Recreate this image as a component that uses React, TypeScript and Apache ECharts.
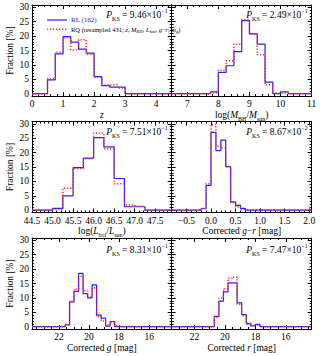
import React, { useEffect, useRef } from 'react';
import * as echarts from 'echarts';

const FONT = '"Liberation Serif", "DejaVu Serif", serif';
const BLUE = '#2222ff';
const RED = '#ff2222';

// ---- data (histogram fractions, %) ----
// Panel 1: redshift z, bins of 0.25 starting at 0.5
const zStart = 0.5;
const zWidth = 0.25;
const zRL = [4.8, 13.8, 19.8, 17.9, 15.5, 14.1, 5.9, 2.8, 2.3, 2.3];
const zRQ = [5.3, 14.4, 19.3, 15.2, 18.7, 13.7, 5.7, 3.0, 3.2, 2.0];

// Panel 2: log(M_BH), bins of 0.25 starting at 7.75
const mStart = 7.75;
const mWidth = 0.25;
const mRL = [0.6, 7.4, 9.7, 14.6, 25.4, 20.8, 17.2, 4.0, 0, 0.6];
const mRQ = [0.3, 8.1, 11.4, 17.2, 25.8, 20.6, 13.5, 3.1, 0.2, 0.3];

// Panel 3: log(L_bol), bins of 0.25 starting at 45.0
const lStart = 45.0;
const lWidth = 0.25;
const lRL = [0.6, 5.0, 14.8, 18.1, 25.2, 22.0, 11.0, 1.2, 1.2];
const lRQ = [0.3, 7.6, 14.5, 17.9, 26.8, 21.3, 9.2, 1.8, 1.4];

// Panel 4: corrected g-r, bins of 0.1 starting at -0.2
const grStart = -0.2;
const grWidth = 0.1;
const grRL = [0.5, 8.6, 27.0, 20.7, 24.3, 15.1, 2.9, 1.7, 0.6];
const grRQ = [0.7, 9.2, 29.8, 22.3, 21.7, 15.1, 2.6, 1.2, 0.2];

// Panel 5: corrected g, bins of 0.3 from 21.6 toward brighter mags
const gStart = 21.6;
const gWidth = -0.3;
const gRL = [0.6, 8.6, 12.3, 18.5, 11.5, 10.0, 14.5, 4.0, 3.0, 0.2, 1.8, 0];
const gRQ = [0.8, 8.8, 13.0, 17.5, 12.5, 10.5, 13.5, 3.5, 2.0, 0.5, 1.5, 0.3];

// Panel 6: corrected r, bins of 0.3 from 20.7 toward brighter mags
const rStart = 20.7;
const rWidth = -0.3;
const rRL = [3.6, 8.9, 12.1, 15.2, 15.2, 8.3, 4.2, 1.0, 0.3, 0.8];
const rRQ = [3.2, 10.0, 13.2, 16.8, 17.2, 7.8, 3.8, 1.2, 0.5, 0.5];

const pKS = ['9.46', '2.49', '7.51', '8.67', '8.31', '7.47'];
const pKSExp = ['−1', '−1', '−1', '−2', '−1', '−1'];

const yTicks = [0, 5, 10, 15, 20, 25, 30];

function range(a: number, b: number, s: number): number[] {
  const out: number[] = [];
  const n = Math.round((b - a) / s);
  for (let i = 0; i <= n; i++) out.push(Math.round((a + i * s) * 1e6) / 1e6);
  return out;
}

const rich = {
  n: { fontFamily: FONT, fontSize: 9.5, color: '#000', lineHeight: 14, verticalAlign: 'middle' },
  i: { fontFamily: FONT, fontSize: 9.5, color: '#000', fontStyle: 'italic', lineHeight: 14, verticalAlign: 'middle' },
  sub: { fontFamily: FONT, fontSize: 6, color: '#000', lineHeight: 9, verticalAlign: 'bottom' },
  sup: { fontFamily: FONT, fontSize: 6, color: '#000', lineHeight: 9, verticalAlign: 'top' },
};

type Panel = {
  min: number; max: number; inverse: boolean;
  major: number[]; minor: number[];
  fmt: (v: number) => string;
  title: string;
  start: number; width: number; rl: number[]; rq: number[];
};

const panels: Panel[] = [
  { min: 0, max: 4.5, inverse: false, major: range(0, 4, 1), minor: range(0, 4.4, 0.2), fmt: (v) => String(v),
    title: '{i|z}', start: zStart, width: zWidth, rl: zRL, rq: zRQ },
  { min: 6.5, max: 11, inverse: false, major: range(7, 11, 1), minor: range(6.6, 11, 0.2), fmt: (v) => String(v),
    title: '{n|log(}{i|M}{sub|BH}{n|/}{i|M}{sub|sun}{n|)}', start: mStart, width: mWidth, rl: mRL, rq: mRQ },
  { min: 44.5, max: 47.9, inverse: false, major: range(44.5, 47.5, 0.5), minor: range(44.5, 47.9, 0.1), fmt: (v) => v.toFixed(1),
    title: '{n|log(}{i|L}{sub|bol}{n|/}{i|L}{sub|sun}{n|)}', start: lStart, width: lWidth, rl: lRL, rq: lRQ },
  { min: -0.8, max: 2.05, inverse: false, major: range(-0.5, 2, 0.5), minor: range(-0.8, 2.0, 0.1), fmt: (v) => v.toFixed(1).replace('-', '−'),
    title: '{n|Corrected }{i|g}{n|−}{i|r}{n| [mag]}', start: grStart, width: grWidth, rl: grRL, rq: grRQ },
  { min: 14.5, max: 23.8, inverse: true, major: range(16, 22, 2), minor: range(14.5, 23.5, 0.5), fmt: (v) => String(v),
    title: '{n|Corrected }{i|g}{n| [mag]}', start: gStart, width: gWidth, rl: gRL, rq: gRQ },
  { min: 14.3, max: 23.5, inverse: true, major: range(16, 22, 2), minor: range(14.5, 23.5, 0.5), fmt: (v) => String(v),
    title: '{n|Corrected }{i|r}{n| [mag]}', start: rStart, width: rWidth, rl: rRL, rq: rRQ },
];

const LEFTS = [32, 171.7];
const WIDTHS = [139.7, 140];
const TOPS = [5, 121.5, 238];
const HEIGHT = 91;
const YMIN = -0.8;
const YMAX = 30.8;

function stepData(p: Panel, vals: number[]): number[][] {
  const leftV = p.inverse ? p.max : p.min;
  const rightV = p.inverse ? p.min : p.max;
  const pts: number[][] = [[leftV, 0]];
  vals.forEach((v, k) => pts.push([p.start + k * p.width, v]));
  pts.push([p.start + vals.length * p.width, 0]);
  pts.push([rightV, 0]);
  return pts;
}

function buildOption() {
  const grid: any[] = [];
  const xAxis: any[] = [];
  const yAxis: any[] = [];
  const series: any[] = [];
  const graphic: any[] = [];
  const black = { color: '#000', width: 1 };

  panels.forEach((p, i) => {
    const col = i % 2;
    const row = Math.floor(i / 2);
    const left = LEFTS[col];
    const top = TOPS[row];
    grid.push({ left, top, width: WIDTHS[col], height: HEIGHT, containLabel: false });
    const baseX = { gridIndex: i, type: 'value', min: p.min, max: p.max, inverse: p.inverse, splitLine: { show: false } };
    xAxis.push({ ...baseX, position: 'bottom',
      axisLine: { show: true, onZero: false, lineStyle: black },
      axisTick: { show: true, inside: true, length: 4, lineStyle: black, customValues: p.major },
      axisLabel: { show: true, customValues: p.major, formatter: p.fmt, fontFamily: FONT, fontSize: 9.5, color: '#000', margin: 3 },
      name: p.title, nameLocation: 'middle', nameGap: 11,
      nameTextStyle: { rich, verticalAlign: 'top' } });
    xAxis.push({ ...baseX, position: 'bottom', axisLine: { show: false, onZero: false },
      axisTick: { show: true, inside: true, length: 2, lineStyle: black, customValues: p.minor }, axisLabel: { show: false } });
    xAxis.push({ ...baseX, position: 'top', axisLine: { show: true, onZero: false, lineStyle: black },
      axisTick: { show: true, inside: true, length: 4, lineStyle: black, customValues: p.major }, axisLabel: { show: false } });
    xAxis.push({ ...baseX, position: 'top', axisLine: { show: false, onZero: false },
      axisTick: { show: true, inside: true, length: 2, lineStyle: black, customValues: p.minor }, axisLabel: { show: false } });

    const baseY = { gridIndex: i, type: 'value', min: YMIN, max: YMAX, splitLine: { show: false } };
    yAxis.push({ ...baseY, position: 'left',
      axisLine: { show: true, onZero: false, lineStyle: black },
      axisTick: { show: true, inside: true, length: 4, lineStyle: black, customValues: yTicks },
      axisLabel: { show: col === 0, customValues: yTicks, fontFamily: FONT, fontSize: 9.5, color: '#000', margin: 3 },
      name: col === 0 ? 'Fraction [%]' : '', nameLocation: 'middle', nameGap: 17, nameRotate: 90,
      nameTextStyle: { fontFamily: FONT, fontSize: 9.5, color: '#000' } });
    yAxis.push({ ...baseY, position: 'left', axisLine: { show: false, onZero: false },
      axisTick: { show: true, inside: true, length: 2, lineStyle: black, customValues: range(0, 30, 1) }, axisLabel: { show: false } });
    yAxis.push({ ...baseY, position: 'right', axisLine: { show: true, onZero: false, lineStyle: black },
      axisTick: { show: true, inside: true, length: 4, lineStyle: black, customValues: yTicks }, axisLabel: { show: false } });
    yAxis.push({ ...baseY, position: 'right', axisLine: { show: false, onZero: false },
      axisTick: { show: true, inside: true, length: 2, lineStyle: black, customValues: range(0, 30, 1) }, axisLabel: { show: false } });

    series.push({ type: 'line', xAxisIndex: i * 4, yAxisIndex: i * 4, data: stepData(p, p.rl), step: 'end',
      showSymbol: false, symbol: 'none', lineStyle: { color: BLUE, width: 1.2 }, z: 3 });
    series.push({ type: 'line', xAxisIndex: i * 4, yAxisIndex: i * 4, data: stepData(p, p.rq), step: 'end',
      showSymbol: false, symbol: 'none', lineStyle: { color: RED, width: 1.5, type: [1.2, 1.8] }, z: 4 });

    graphic.push({ type: 'text', x: left + WIDTHS[col] - 4, y: top + (row === 2 ? 12 : 10),
      style: { text: `{i|P}{sub|KS}{n| = ${pKS[i]}×10}{sup|${pKSExp[i]}}`, rich, align: 'right', verticalAlign: 'middle' } });
  });

  graphic.push({ type: 'line', shape: { x1: 47, y1: 20, x2: 67, y2: 20 }, style: { stroke: BLUE, lineWidth: 1.2 } });
  graphic.push({ type: 'text', x: 71, y: 20, style: { text: 'RL (162)', fill: BLUE, fontFamily: FONT, fontSize: 7, verticalAlign: 'middle' } });
  graphic.push({ type: 'line', shape: { x1: 47, y1: 29.3, x2: 67, y2: 29.3 }, style: { stroke: RED, lineWidth: 1.5, lineDash: [1.2, 1.8] } });
  const lr = { fontFamily: FONT, fontSize: 6.5, color: RED, lineHeight: 10, verticalAlign: 'middle' };
  graphic.push({ type: 'text', x: 71, y: 29.3, style: {
    text: '{n|RQ (resampled 431; }{i|z}{n|, }{i|M}{s|BH}{n|, }{i|L}{s|bol}{n|, }{i|g}{n|−}{i|r}{n|, }{i|m}{s|g}{n|)}',
    verticalAlign: 'middle',
    rich: { n: lr, i: { ...lr, fontStyle: 'italic' }, s: { fontFamily: FONT, fontSize: 4.5, color: RED, lineHeight: 7, verticalAlign: 'bottom' } } } });

  return { animation: false, backgroundColor: '#fff', grid, xAxis, yAxis, series, graphic };
}

export default function App() {
  const ref = useRef<HTMLDivElement>(null);
  useEffect(() => {
    document.body.style.margin = '0';
    const chart = echarts.init(ref.current!, null, { renderer: 'svg' });
    chart.setOption(buildOption() as any);
    return () => chart.dispose();
  }, []);
  return <div ref={ref} style={{ width: 324, height: 356 }} />;
}
